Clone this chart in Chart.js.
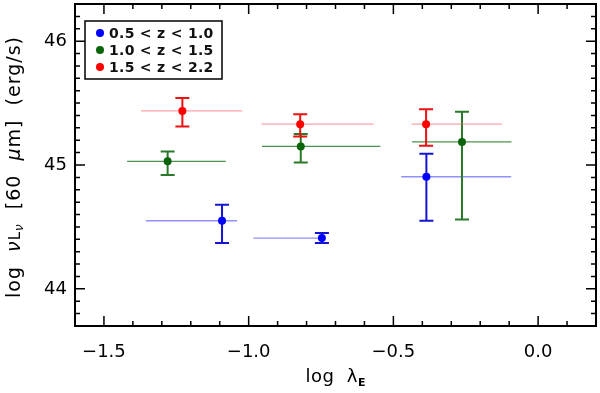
<!DOCTYPE html>
<html>
<head>
<meta charset="utf-8">
<script src="https://cdn.jsdelivr.net/npm/chart.js@4.4.1/dist/chart.umd.min.js"></script>
<style>
  html, body { margin: 0; padding: 0; background: #fff; }
  #wrap { width: 600px; height: 393px; position: relative; }
</style>
</head>
<body>
<div id="wrap"><canvas id="c"></canvas></div>
<script>
// axis ticks
const xTicks = [-1.5, -1.0, -0.5, 0.0];
const yTicks = [44, 45, 46];
const seriesLabels = ['0.5 < z < 1.0', '1.0 < z < 1.5', '1.5 < z < 2.2'];

// 0.5 < z < 1.0
const blueX   = [-1.092, -0.747, -0.386];
const blueY   = [44.55, 44.41, 44.905];
const blueXLo = [-1.355, -0.984, -0.473];
const blueXHi = [-1.040, -0.747, -0.093];
const blueYLo = [44.37, 44.37, 44.55];
const blueYHi = [44.68, 44.45, 45.09];

// 1.0 < z < 1.5
const greenX   = [-1.280, -0.820, -0.263];
const greenY   = [45.03, 45.15, 45.186];
const greenXLo = [-1.420, -0.954, -0.436];
const greenXHi = [-1.079, -0.545, -0.092];
const greenYLo = [44.92, 45.02, 44.56];
const greenYHi = [45.11, 45.25, 45.43];

// 1.5 < z < 2.2
const redX   = [-1.229, -0.822, -0.387];
const redY   = [45.437, 45.33, 45.33];
const redXLo = [-1.372, -0.956, -0.437];
const redXHi = [-1.022, -0.568, -0.125];
const redYLo = [45.31, 45.23, 45.156];
const redYHi = [45.54, 45.41, 45.45];

const FONT = '"DejaVu Sans", sans-serif';

function mkSet(label, xs, ys, xlo, xhi, ylo, yhi, color, barColor, lineColor) {
  return {
    label,
    data: xs.map((x, i) => ({ x, y: ys[i], xMin: xlo[i], xMax: xhi[i], yMin: ylo[i], yMax: yhi[i] })),
    backgroundColor: color,
    borderWidth: 0,
    pointRadius: 4,
    pointHoverRadius: 4,
    barColor, lineColor
  };
}

const datasets = [
  mkSet(seriesLabels[0], blueX, blueY, blueXLo, blueXHi, blueYLo, blueYHi, '#0000ff', '#1414d2', 'rgba(70,70,255,0.6)'),
  mkSet(seriesLabels[1], greenX, greenY, greenXLo, greenXHi, greenYLo, greenYHi, '#0a640a', '#2a7a2a', 'rgba(30,120,30,0.8)'),
  mkSet(seriesLabels[2], redX, redY, redXLo, redXHi, redYLo, redYHi, '#ff0000', '#ee1111', 'rgba(255,90,100,0.55)')
];

// error bars go under the points
const errorBars = {
  id: 'errorBars',
  beforeDatasetsDraw(chart) {
    const { ctx, scales: { x, y } } = chart;
    ctx.save();
    chart.data.datasets.forEach(ds => {
      ds.data.forEach(p => {
        const px = x.getPixelForValue(p.x), py = y.getPixelForValue(p.y);
        ctx.strokeStyle = ds.lineColor; ctx.lineWidth = 1.3;
        ctx.beginPath();
        ctx.moveTo(x.getPixelForValue(p.xMin), py);
        ctx.lineTo(x.getPixelForValue(p.xMax), py);
        ctx.stroke();
        const t = y.getPixelForValue(p.yMax), b = y.getPixelForValue(p.yMin);
        ctx.strokeStyle = ds.barColor; ctx.lineWidth = 2;
        ctx.beginPath();
        ctx.moveTo(px, t); ctx.lineTo(px, b);
        ctx.moveTo(px - 7, t); ctx.lineTo(px + 7, t);
        ctx.moveTo(px - 7, b); ctx.lineTo(px + 7, b);
        ctx.stroke();
      });
    });
    ctx.restore();
  }
};

// box with inward ticks on all sides, titles and legend
const frame = {
  id: 'frame',
  afterDraw(chart) {
    const { ctx, chartArea: a, scales: { x, y } } = chart;
    ctx.save();
    ctx.strokeStyle = '#000'; ctx.lineWidth = 2;
    ctx.strokeRect(a.left, a.top, a.right - a.left, a.bottom - a.top);
    ctx.lineWidth = 1.5;
    ctx.beginPath();
    for (let k = -16; k <= 2; k++) {
      const v = k / 10, px = x.getPixelForValue(v);
      const len = (k % 5 === 0) ? 10 : 5;
      ctx.moveTo(px, a.bottom); ctx.lineTo(px, a.bottom - len);
      ctx.moveTo(px, a.top); ctx.lineTo(px, a.top + len);
    }
    for (let k = 437; k <= 463; k++) {
      const v = k / 10, py = y.getPixelForValue(v);
      const len = (k % 10 === 0) ? 10 : 5;
      ctx.moveTo(a.left, py); ctx.lineTo(a.left + len, py);
      ctx.moveTo(a.right, py); ctx.lineTo(a.right - len, py);
    }
    ctx.stroke();

    // x title: log λ_E
    ctx.fillStyle = '#000';
    ctx.textBaseline = 'middle';
    ctx.textAlign = 'left';
    ctx.font = 'bold 11px ' + FONT;
    const wSub = ctx.measureText('E').width;
    ctx.font = '18px ' + FONT;
    ctx.letterSpacing = '0.5px';
    const xt1 = 'log  λ';
    const w1 = ctx.measureText(xt1).width;
    let sx = (a.left + a.right) / 2 - (w1 + wSub) / 2;
    ctx.fillText(xt1, sx, 377);
    ctx.font = 'bold 11px ' + FONT;
    ctx.fillText('E', sx + w1, 383);

    // y title: log νL_ν [60 μm] (erg/s)
    ctx.translate(15, (a.top + a.bottom) / 2 + 2);
    ctx.rotate(-Math.PI / 2);
    ctx.letterSpacing = '1px';
    const parts = [
      ['log  ', '19px ' + FONT, 0],
      ['ν', 'italic 19px ' + FONT, 0],
      ['L', '15px ' + FONT, 1],
      ['ν', 'italic 12px ' + FONT, 5],
      ['  [60  ', '19px ' + FONT, 0],
      ['μ', 'italic 19px ' + FONT, 0],
      ['m]  (erg/s)', '19px ' + FONT, 0]
    ];
    let total = 0;
    parts.forEach(p => { ctx.font = p[1]; total += ctx.measureText(p[0]).width; });
    let cx = -total / 2;
    parts.forEach(p => { ctx.font = p[1]; ctx.fillText(p[0], cx, p[2]); cx += ctx.measureText(p[0]).width; });
    ctx.restore();

    // legend
    ctx.save();
    const lx = a.left + 10, ly = a.top + 17;
    ctx.strokeStyle = '#000'; ctx.lineWidth = 1.5;
    ctx.fillStyle = '#fff';
    ctx.fillRect(lx, ly, 137, 58);
    ctx.strokeRect(lx, ly, 137, 58);
    ctx.font = 'bold 14px ' + FONT;
    ctx.letterSpacing = '0.3px';
    ctx.textBaseline = 'middle'; ctx.textAlign = 'left';
    chart.data.datasets.forEach((ds, i) => {
      const ry = ly + 12 + i * 17;
      ctx.fillStyle = ds.backgroundColor;
      ctx.beginPath(); ctx.arc(lx + 15, ry, 4, 0, Math.PI * 2); ctx.fill();
      ctx.fillStyle = '#111';
      ctx.fillText(ds.label, lx + 24, ry + 1);
    });
    ctx.restore();
  }
};

const fmtMinus = s => s.replace('-', '\u2212');

new Chart(document.getElementById('c'), {
  type: 'scatter',
  data: { datasets },
  options: {
    responsive: true,
    maintainAspectRatio: false,
    animation: false,
    layout: { padding: { top: 4, right: 2, left: 0, bottom: 0 } },
    plugins: { legend: { display: false }, tooltip: { enabled: false } },
    scales: {
      x: {
        min: -1.6, max: 0.2,
        afterBuildTicks: s => { s.ticks = xTicks.map(v => ({ value: v })); },
        afterFit: s => { s.height = 67; s.paddingLeft = 0; s.paddingRight = 0; },
        grid: { display: false, drawTicks: false },
        border: { display: false },
        ticks: {
          padding: 16, color: '#000', maxRotation: 0, autoSkip: false,
          font: { family: FONT, size: 18 },
          callback: v => fmtMinus(Number(v).toFixed(1))
        }
      },
      y: {
        min: 43.7, max: 46.3,
        afterBuildTicks: s => { s.ticks = yTicks.map(v => ({ value: v })); },
        afterFit: s => { s.width = 75; s.paddingTop = 0; s.paddingBottom = 0; },
        grid: { display: false, drawTicks: false },
        border: { display: false },
        ticks: {
          padding: 8, color: '#000', autoSkip: false,
          font: { family: FONT, size: 18 },
          callback: v => Number(v).toFixed(0)
        }
      }
    }
  },
  plugins: [errorBars, frame]
});
</script>
</body>
</html>
